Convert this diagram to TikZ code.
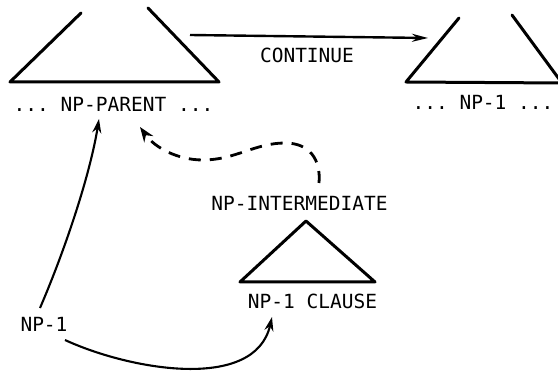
\documentclass[tikz,border=0pt]{standalone}
\usepackage{fontspec}
\setmonofont{DejaVu Sans Mono}
\usetikzlibrary{arrows.meta}
\begin{document}
\begin{tikzpicture}[x=1pt,y=-1pt,
  tri/.style={line width=3pt, line cap=round, line join=round},
  lbl/.style={font=\ttfamily\fontsize{19.5}{20}\selectfont, inner sep=0pt, anchor=base},
  arr/.style={line width=2.1pt, -{Stealth[length=14pt,width=9pt]}},
  dasharr/.style={line width=2.8pt, dash pattern=on 12pt off 9pt, -{Stealth[length=15pt,width=11pt]}},
]
\useasboundingbox (0,0) rectangle (558,371);
% left open-topped triangle
\coordinate (LTl) at (81,13);
\coordinate (LBl) at (10,82);
\coordinate (LBr) at (219,82);
\coordinate (LTr) at (148,8);
\draw[tri] (LTl) -- (LBl) -- (LBr) -- (LTr);
% right open-topped triangle
\coordinate (RTl) at (459,18);
\coordinate (RBl) at (406,82);
\coordinate (RBr) at (562,83);
\coordinate (RTr) at (512,15);
\draw[tri] (RTl) -- (RBl) -- (RBr) -- (RTr);
% small triangle
\coordinate (Sa) at (306,221);
\coordinate (Sl) at (240,282);
\coordinate (Sr) at (375,282);
\draw[tri] (Sa) -- (Sl) -- (Sr) -- cycle;
% labels
\node[lbl] (parent) at (113.5,112) {... NP-PARENT ...};
\node[lbl] (npone) at (483,110) {... NP-1 ...};
\node[lbl] (cont) at (307,63) {CONTINUE};
\node[lbl] (inter) at (299.5,211) {NP-INTERMEDIATE};
\node[lbl] (clause) at (312.5,309) {NP-1 CLAUSE};
\node[lbl] (np) at (44,332) {NP-1};
% connector end points
\coordinate (cs) at (190,35);
\coordinate (ce) at (428,38);
\coordinate (p1) at (40,308);
\coordinate (p2) at (99,119);
\coordinate (q1) at (65,340);
\coordinate (q2) at (272,317);
\coordinate (d1) at (319,183);
\coordinate (d2) at (140,127);
% connectors
\draw[arr, -{Stealth[length=16pt,width=8pt]}, line width=2.4pt] (cs) -- (ce);
\draw[arr] (p1) .. controls (65,250) and (90,175) .. (p2);
\draw[arr] (q1) .. controls (130,370) and (255,392) .. (q2);
\draw[dasharr] (d1) .. controls (321,160) and (310,143) .. (285,143)
  .. controls (255,143) and (235,160) .. (203,160)
  .. controls (178,160) and (155,148) .. (d2);
\end{tikzpicture}
\end{document}
